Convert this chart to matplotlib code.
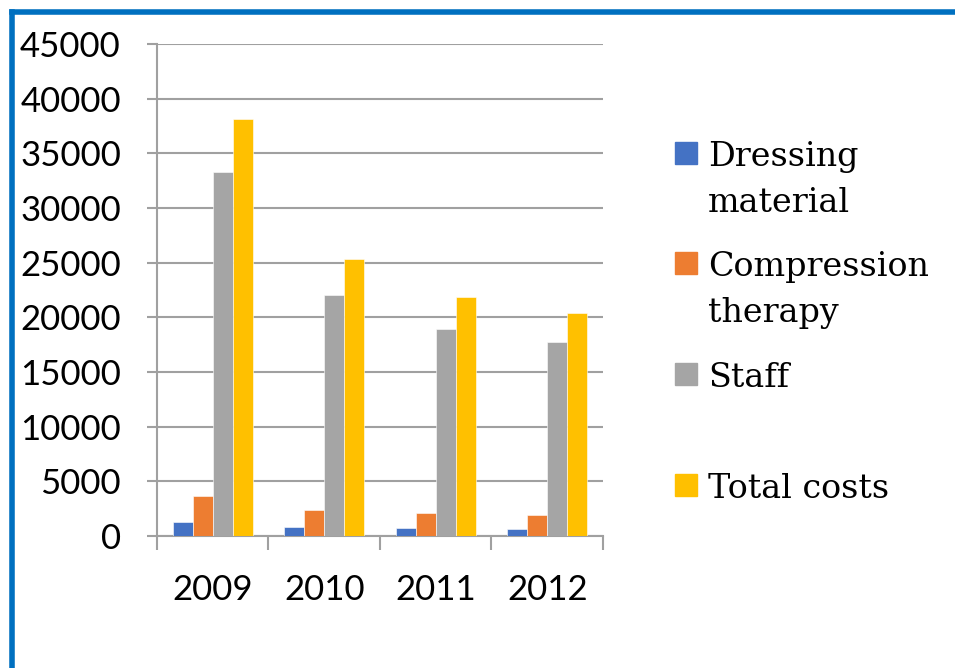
import numpy as np
import matplotlib.pyplot as plt
from matplotlib.patches import Rectangle
from matplotlib.lines import Line2D

years = ['2009', '2010', '2011', '2012']
series = ['Dressing\nmaterial', 'Compression\ntherapy', 'Staff', 'Total costs']
dressing = [1250, 800, 700, 640]
compression = [3620, 2400, 2070, 1950]
staff = [33300, 22050, 18970, 17750]
total = [38170, 25370, 21830, 20430]
colors = ['#4472C4', '#ED7D31', '#A5A5A5', '#FFC000']

fig = plt.figure(figsize=(9.55, 6.68), dpi=100)
ax = fig.add_axes([0.1644, 0.1976, 0.467, 0.7365])

x = np.arange(len(years))
w = 0.18
for i, vals in enumerate([dressing, compression, staff, total]):
    ax.bar(x + (i - 1.5) * w, vals, w, color=colors[i], edgecolor='white',
           linewidth=0.4, zorder=3)

ax.set_xlim(-0.5, 3.5)
ax.set_ylim(0, 45000)
ax.set_yticks(range(0, 45001, 5000))
ax.set_xticks(x)
ax.set_xticklabels(years)
ax.set_xticks(np.arange(-0.5, 3.6, 1), minor=True)

gc = '#A0A0A0'
ax.grid(axis='y', color=gc, linewidth=1.5, zorder=0)
for s in ['top', 'right']:
    ax.spines[s].set_visible(False)
ax.spines['left'].set_color(gc)
ax.spines['bottom'].set_color(gc)
ax.spines['left'].set_linewidth(1.5)
ax.spines['bottom'].set_linewidth(1.5)

ax.tick_params(axis='y', length=7, width=1.5, color=gc, pad=19,
               labelsize=25)
ax.tick_params(axis='x', which='major', length=0, pad=27, labelsize=25)
ax.tick_params(axis='x', which='minor', length=10, width=1.5, color=gc)
for lab in ax.get_xticklabels() + ax.get_yticklabels():
    lab.set_fontfamily('Lato')

# legend drawn by hand to keep the wrapped labels
mk_y = [153, 263, 374, 485]
for name, c, yy in zip(series, colors, mk_y):
    fig.patches.append(Rectangle((675 / 955, 1 - (yy + 11) / 668), 22 / 955, 22 / 668,
                                 transform=fig.transFigure, color=c))
    fig.text(708 / 955, 1 - (yy - 12) / 668, name, fontsize=24,
             family='DejaVu Serif', va='top', ha='left', linespacing=1.55)

# blue frame at top and left
bc = '#0070C0'
fig.add_artist(Line2D([12 / 955, 12 / 955], [0, 1 - 12 / 668], color=bc, linewidth=4,
                      transform=fig.transFigure, solid_capstyle='projecting'))
fig.add_artist(Line2D([12 / 955, 1], [1 - 12 / 668, 1 - 12 / 668], color=bc, linewidth=4,
                      transform=fig.transFigure, solid_capstyle='projecting'))

fig.savefig('out.png', dpi=100)
